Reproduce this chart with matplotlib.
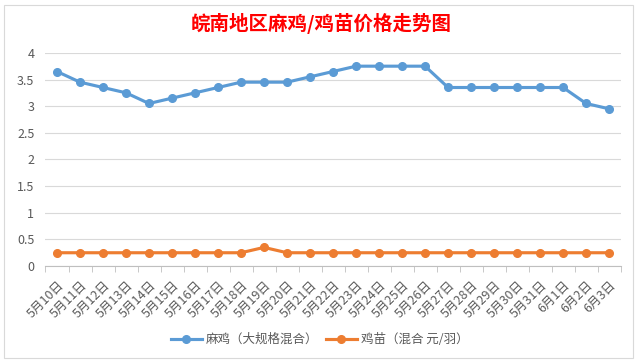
import matplotlib
matplotlib.use("Agg")
import matplotlib.pyplot as plt
from matplotlib.patches import Rectangle
import numpy as np

plt.rcParams['font.family'] = ['Noto Sans CJK SC', 'DejaVu Sans']

dates = ["5月10日", "5月11日", "5月12日", "5月13日", "5月14日", "5月15日", "5月16日",
         "5月17日", "5月18日", "5月19日", "5月20日", "5月21日", "5月22日", "5月23日",
         "5月24日", "5月25日", "5月26日", "5月27日", "5月28日", "5月29日", "5月30日",
         "5月31日", "6月1日", "6月2日", "6月3日"]
maji = [3.65, 3.45, 3.35, 3.25, 3.05, 3.15, 3.25, 3.35, 3.45, 3.45, 3.45, 3.55, 3.65,
        3.75, 3.75, 3.75, 3.75, 3.35, 3.35, 3.35, 3.35, 3.35, 3.35, 3.05, 2.95]
jimiao = [0.25, 0.25, 0.25, 0.25, 0.25, 0.25, 0.25, 0.25, 0.25, 0.35, 0.25, 0.25, 0.25,
          0.25, 0.25, 0.25, 0.25, 0.25, 0.25, 0.25, 0.25, 0.25, 0.25, 0.25, 0.25]
series_names = ["麻鸡（大规格混合）", "鸡苗（混合 元/羽）"]
yticks = [0, 0.5, 1, 1.5, 2, 2.5, 3, 3.5, 4]
ytick_labels = ["0", "0.5", "1", "1.5", "2", "2.5", "3", "3.5", "4"]

fig = plt.figure(figsize=(6.39, 3.62), dpi=100)
fig.patches.append(Rectangle((0.006, 0.01), 0.985, 0.975, transform=fig.transFigure,
                             fill=False, edgecolor="#d9d9d9", linewidth=0.8))
ax = fig.add_axes([0.0712, 0.265, 0.9, 0.589])

x = np.arange(len(dates))
ax.plot(x, maji, color="#5b9bd5", linewidth=2.25, marker="o", markersize=5.5, label=series_names[0])
ax.plot(x, jimiao, color="#ed7d31", linewidth=2.25, marker="o", markersize=5.5, label=series_names[1])

ax.set_xlim(-0.5, len(dates) - 0.5)
ax.set_ylim(0, 4)
ax.set_yticks(yticks)
ax.set_yticklabels(ytick_labels)
ax.yaxis.grid(True, color="#d9d9d9", linewidth=0.8)
ax.set_axisbelow(True)
ax.tick_params(axis="y", length=0, labelsize=9, colors="#595959", pad=8)

ax.set_xticks(x)
ax.set_xticklabels(dates, rotation=45, ha="right", rotation_mode="anchor", fontsize=9, color="#595959")
ax.set_xticks(np.arange(-0.5, len(dates), 1), minor=True)
ax.tick_params(axis="x", which="major", length=0, pad=9)
ax.tick_params(axis="x", which="minor", length=4, color="#bfbfbf", direction="out")

for s in ["top", "right", "left"]:
    ax.spines[s].set_visible(False)
ax.spines["bottom"].set_color("#bfbfbf")
ax.spines["bottom"].set_linewidth(0.8)

fig.text(0.503, 0.935, "皖南地区麻鸡/鸡苗价格走势图", color="red", fontsize=14,
         ha="center", va="center", fontweight="bold")

fig.legend(loc="center", bbox_to_anchor=(0.5, 0.062), ncol=2, frameon=False,
           fontsize=9, handlelength=2.5, columnspacing=0.6, handletextpad=0.3,
           labelcolor="#595959")

fig.savefig("out.png", dpi=100)
